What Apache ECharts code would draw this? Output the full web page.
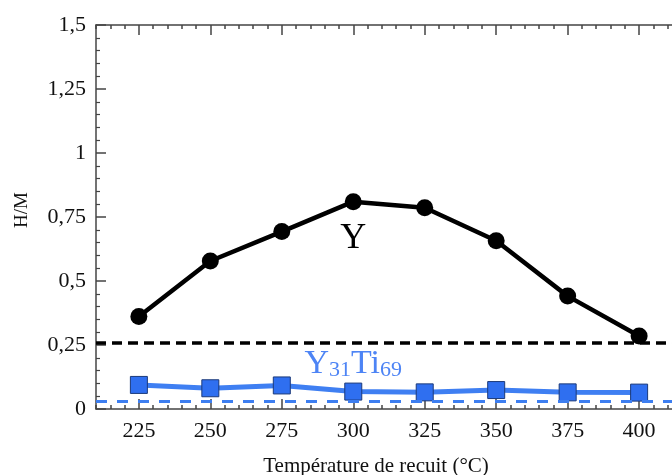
<!DOCTYPE html>
<html>
<head>
<meta charset="utf-8">
<script src="https://cdn.jsdelivr.net/npm/echarts@6/dist/echarts.min.js"></script>
<style>html,body{margin:0;padding:0;background:#fff;overflow:hidden}#c{width:692px;height:475px}</style>
</head>
<body>
<div id="c"></div>
<script>
// ---- data ----
const categories = [225, 250, 275, 300, 325, 350, 375, 400];
const xTickLabels = ['225', '250', '275', '300', '325', '350', '375', '400'];
const yValues = [0.361, 0.578, 0.693, 0.810, 0.786, 0.657, 0.441, 0.285];
const y31Ti69Values = [0.094, 0.081, 0.092, 0.068, 0.065, 0.074, 0.065, 0.064];
const yReference = 0.257;
const y31Ti69Reference = 0.029;
const yTickLabels = ['0', '0,25', '0,5', '0,75', '1', '1,25', '1,5'];
const xTitle = 'Température de recuit (°C)';
const yTitle = 'H/M';

// ---- build ----
const FONT = "'Liberation Serif', 'Times New Roman', serif";
const AX = '#444';
const xMin = 210, xMax = 415;
const minorX = [];
for (let v = xMin; v <= xMax; v += 5) if (categories.indexOf(v) < 0) minorX.push(v);

function xAxisDef(position, custom, len, withLine, withLabel) {
  return {
    type: 'value', position: position, min: xMin, max: xMax,
    axisLine: { show: withLine, lineStyle: { color: AX, width: 1.5 } },
    axisTick: { show: true, inside: true, length: len, customValues: custom, lineStyle: { color: AX, width: 1.5 } },
    axisLabel: withLabel ? {
      show: true, customValues: categories, margin: 11,
      formatter: v => xTickLabels[categories.indexOf(v)] || '',
      fontFamily: FONT, fontSize: 22, color: '#111'
    } : { show: false },
    splitLine: { show: false }
  };
}
function yAxisDef(position, withLabel) {
  return {
    type: 'value', position: position, min: 0, max: 1.5, interval: 0.25,
    axisLine: { show: true, lineStyle: { color: AX, width: 1.5 } },
    axisTick: { show: true, inside: true, length: 10, lineStyle: { color: AX, width: 1.5 } },
    minorTick: { show: true, splitNumber: 5, length: 4, lineStyle: { color: AX, width: 1.2 } },
    axisLabel: withLabel ? {
      show: true, margin: 10,
      formatter: v => yTickLabels[Math.round(v / 0.25)],
      fontFamily: FONT, fontSize: 22, color: '#111'
    } : { show: false },
    splitLine: { show: false }
  };
}

const chart = echarts.init(document.getElementById('c'), null, { renderer: 'canvas' });
chart.setOption({
  animation: false,
  backgroundColor: '#fff',
  grid: { left: 96, top: 25, right: 10, bottom: 66, containLabel: false },
  xAxis: [
    xAxisDef('bottom', categories, 10, true, true),
    xAxisDef('bottom', minorX, 4, false, false),
    xAxisDef('top', categories, 10, true, false),
    xAxisDef('top', minorX, 4, false, false)
  ],
  yAxis: [yAxisDef('left', true), yAxisDef('right', false)],
  graphic: [
    { type: 'text', x: 376, y: 466, style: { text: xTitle, font: '21px ' + FONT, fill: '#111', textAlign: 'center', textVerticalAlign: 'middle' } },
    { type: 'text', x: 22, y: 210, rotation: Math.PI / 2, style: { text: yTitle, font: '19px ' + FONT, fill: '#111', textAlign: 'center', textVerticalAlign: 'middle' } }
  ],
  series: [
    {
      type: 'line', name: 'refs', data: [], z: 1, silent: true,
      markLine: {
        silent: true, symbol: ['none', 'none'], label: { show: false },
        data: [
          { yAxis: yReference, lineStyle: { color: '#000', width: 3.5, type: [10, 6] } },
          { yAxis: y31Ti69Reference, lineStyle: { color: '#3d7ef0', width: 3, type: [11, 10] } }
        ]
      }
    },
    {
      type: 'line', name: 'Y', z: 3,
      data: categories.map((c, i) => [c, yValues[i]]),
      symbol: 'circle', symbolSize: 17, showAllSymbol: true,
      lineStyle: { color: '#000', width: 4.5 },
      itemStyle: { color: '#000' },
      markPoint: {
        symbolSize: 0, silent: true,
        data: [{ coord: [300, 0.664], label: { show: true, position: 'inside', formatter: 'Y', fontFamily: FONT, fontSize: 36, color: '#000' } }]
      }
    },
    {
      type: 'line', name: 'Y31Ti69', z: 3,
      data: categories.map((c, i) => [c, y31Ti69Values[i]]),
      symbol: 'rect', symbolSize: 17, showAllSymbol: true,
      lineStyle: { color: '#3f7ff2', width: 5 },
      itemStyle: { color: '#2f6ff0', borderColor: '#1c3a7a', borderWidth: 1 },
      markPoint: {
        symbolSize: 0, silent: true,
        data: [{
          coord: [300, 0.176],
          label: {
            show: true, position: 'inside',
            formatter: '{b|Y}{s|31}{b|Ti}{s|69}',
            rich: {
              b: { fontFamily: FONT, fontSize: 34, color: '#4d84f5', lineHeight: 34, verticalAlign: 'bottom' },
              s: { fontFamily: FONT, fontSize: 22, color: '#4d84f5', lineHeight: 14, verticalAlign: 'bottom' }
            }
          }
        }]
      }
    }
  ]
});
</script>
</body>
</html>
